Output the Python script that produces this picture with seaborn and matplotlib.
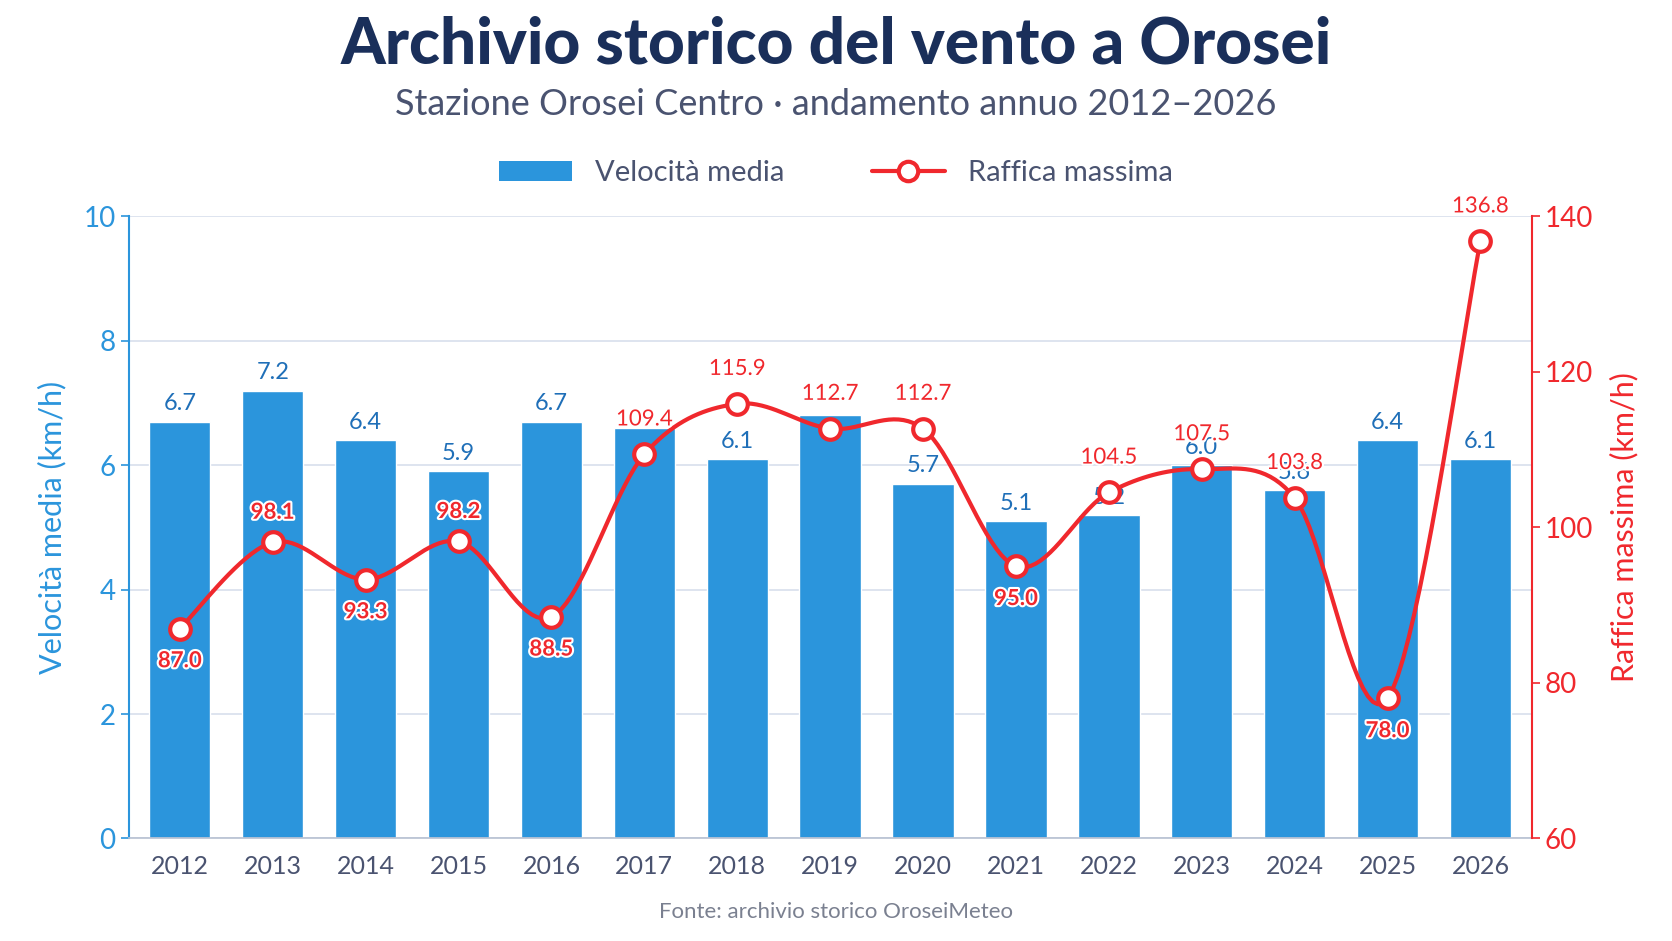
import numpy as np
import pandas as pd
import matplotlib
matplotlib.use("Agg")
import matplotlib.pyplot as plt
import matplotlib.patheffects as pe
from matplotlib.patches import Patch
from matplotlib.lines import Line2D
import seaborn as sns

years = [str(y) for y in range(2012, 2027)]
velocita = [6.7, 7.2, 6.4, 5.9, 6.7, 6.6, 6.1, 6.8, 5.7, 5.1, 5.2, 6.0, 5.6, 6.4, 6.1]
raffica = [87.0, 98.1, 93.3, 98.2, 88.5, 109.4, 115.9, 112.7, 112.7, 95.0, 104.5, 107.5, 103.8, 78.0, 136.8]

sns.set_theme(style="white")
plt.rcParams['font.family'] = ['Lato', 'DejaVu Sans']
BLUE = "#2b95dc"; RED = "#f0282d"; NAVY = "#1a2f5a"; GREY = "#4a5370"

fig = plt.figure(figsize=(16.72, 9.41), dpi=100)
ax = fig.add_axes([0.077, 0.109, 0.839, 0.661])
df = pd.DataFrame({"anno": years, "v": velocita})
sns.barplot(data=df, x="anno", y="v", color=BLUE, saturation=1, width=0.66, ax=ax, zorder=2)
ax.set_ylim(0, 10)
ax.set_xlim(-0.55, 14.55)
ax.set_yticks(range(0, 11, 2))
ax.yaxis.grid(True, color="#d8dfec", lw=1.2, zorder=0)
ax.set_axisbelow(True)
for s in ["top", "right"]:
    ax.spines[s].set_visible(False)
ax.spines["left"].set_color(BLUE); ax.spines["left"].set_linewidth(1.5)
ax.spines["bottom"].set_color("#b9c2d3")
ax.tick_params(axis="y", colors=BLUE, labelsize=20, length=6, width=1.2, direction="out", left=True)
ax.tick_params(axis="x", colors=GREY, labelsize=18, length=0, pad=12)
ax.set_xlabel("")
ax.set_ylabel("Velocità media (km/h)", color=BLUE, fontsize=22, labelpad=12)
for i, v in enumerate(velocita):
    if i in (5, 7):
        continue
    ax.text(i, v + 0.12, f"{v:.1f}", ha="center", va="bottom", color="#1f6fb8", fontsize=17)

ax2 = ax.twinx()
ax2.set_ylim(60, 140)
ax2.set_yticks(range(60, 141, 20))
for s in ["top", "left", "bottom"]:
    ax2.spines[s].set_visible(False)
ax2.spines["right"].set_color(RED); ax2.spines["right"].set_linewidth(1.5)
ax2.tick_params(axis="y", colors=RED, labelsize=20, length=6, width=1.2, right=True)
ax2.set_ylabel("Raffica massima (km/h)", color=RED, fontsize=22, labelpad=12)

x = np.arange(len(raffica), dtype=float); y = np.array(raffica)
xs, ys = [], []
P = np.vstack([x, y]).T
P = np.vstack([P[0], P, P[-1]])
for i in range(1, len(P) - 2):
    t = np.linspace(0, 1, 20)[:, None]
    p0, p1, p2, p3 = P[i-1], P[i], P[i+1], P[i+2]
    c = 0.5 * ((2*p1) + (-p0+p2)*t + (2*p0-5*p1+4*p2-p3)*t**2 + (-p0+3*p1-3*p2+p3)*t**3)
    xs.extend(c[:, 0]); ys.extend(c[:, 1])
ax2.plot(xs, ys, color=RED, lw=3, zorder=3)
sns.scatterplot(x=x, y=y, ax=ax2, s=220, color="white", edgecolor=RED, linewidth=3, zorder=4, legend=False)
below = {0, 2, 4, 9, 13}
for i, r in enumerate(raffica):
    if i in below:
        ax2.text(i, r - 2.8, f"{r:.1f}", ha="center", va="top", color=RED, fontsize=16, fontweight="bold",
                 path_effects=[pe.withStroke(linewidth=3, foreground="white")])
    elif i in (1, 3):
        ax2.text(i, r + 2.5, f"{r:.1f}", ha="center", va="bottom", color=RED, fontsize=16, fontweight="bold",
                 path_effects=[pe.withStroke(linewidth=3, foreground="white")])
    else:
        ax2.text(i, r + 3.2, f"{r:.1f}", ha="center", va="bottom", color=RED, fontsize=16,
                 path_effects=[pe.withStroke(linewidth=3, foreground="white")])

fig.text(0.5, 0.952, "Archivio storico del vento a Orosei", ha="center", va="center",
         fontsize=46, fontweight="black", color=NAVY)
fig.text(0.5, 0.889, "Stazione Orosei Centro · andamento annuo 2012–2026", ha="center", va="center",
         fontsize=26, color=GREY)
handles = [Patch(facecolor=BLUE, edgecolor="none"),
           Line2D([0], [0], color=RED, lw=3, marker="o", markersize=14, markerfacecolor="white", markeredgewidth=3)]
fig.legend(handles, ["Velocità media", "Raffica massima"], loc="center", bbox_to_anchor=(0.5, 0.816),
           ncol=2, frameon=False, fontsize=21, labelcolor=GREY, handlelength=2.5, columnspacing=3)
fig.text(0.5, 0.031, "Fonte: archivio storico OroseiMeteo", ha="center", va="center", color="#7a8090", fontsize=16)
fig.savefig("out.png", dpi=100, facecolor="white")
